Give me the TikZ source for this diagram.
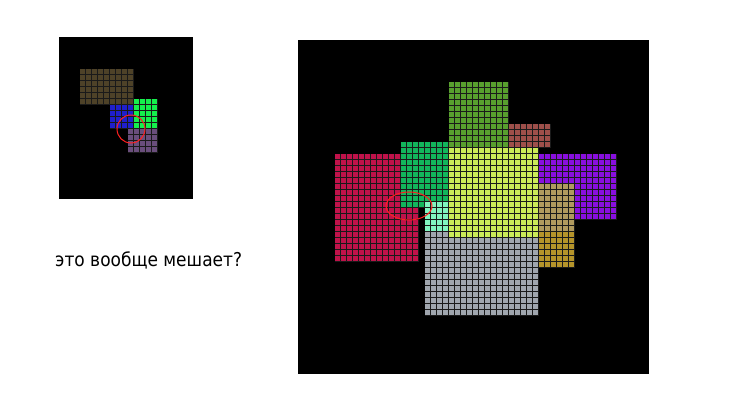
\documentclass[tikz,border=0pt]{standalone}
\usepackage{fontspec}
\setmainfont{DejaVu Sans}
\definecolor{gline}{HTML}{1A1A1A}
\definecolor{cOlive}{HTML}{4E4228}
\definecolor{cBlue}{HTML}{1F1FCC}
\definecolor{cLime}{HTML}{14F04C}
\definecolor{cMauve}{HTML}{6A4E7C}
\definecolor{cCrimson}{HTML}{C0124A}
\definecolor{cEmerald}{HTML}{12B65C}
\definecolor{cMint}{HTML}{80F5C0}
\definecolor{cGreen}{HTML}{589F2E}
\definecolor{cBrick}{HTML}{9E4F4A}
\definecolor{cGray}{HTML}{A0A6AE}
\definecolor{cYellow}{HTML}{CBEA58}
\definecolor{cPurple}{HTML}{880FDE}
\definecolor{cTan}{HTML}{B09A5E}
\definecolor{cGold}{HTML}{B5942A}
\definecolor{cMark}{HTML}{FF2020}
\newcommand\gridrect[5]{%
  \fill[#1] (#2,#3) rectangle ++({6*#4},{6*#5});
  \foreach \k in {1,...,#4} \draw[gridstroke] ({#2+6*\k-0.5},#3) -- ++(0,{6*#5});
  \foreach \k in {1,...,#5} \draw[gridstroke] (#2,{#3+6*\k-0.5}) -- ++({6*#4},0);
}
\begin{document}
\begin{tikzpicture}[x=1pt,y=-1pt,
  gridstroke/.style={draw=gline,line width=0.8pt},
  panel/.style={fill=black},
  marker/.style={draw=cMark,line width=1pt}]
\useasboundingbox (0,0) rectangle (747,406);
\fill[white] (0,0) rectangle (747,406);
% left panel
\fill[panel] (59,37) rectangle (193,199);
\gridrect{cOlive}{80}{69}{9}{6}
\gridrect{cBlue}{110}{105}{4}{4}
\gridrect{cLime}{134}{99}{4}{5}
\gridrect{cMauve}{128}{129}{5}{4}
\draw[marker] (131,129) circle[radius=14];
% right panel
\fill[panel] (298,40) rectangle (649,374);
\gridrect{cCrimson}{335}{154}{14}{18}
\gridrect{cEmerald}{401}{142}{8}{11}
\gridrect{cMint}{425}{202}{4}{5}
\gridrect{cGreen}{449}{82}{10}{11}
\gridrect{cBrick}{509}{124}{7}{4}
\gridrect{cGray}{425}{232}{19}{14}
\gridrect{cYellow}{449}{148}{15}{15}
\gridrect{cPurple}{539}{154}{13}{11}
\gridrect{cTan}{539}{184}{6}{8}
\gridrect{cGold}{539}{232}{6}{6}
\draw[marker] (409,206) ellipse[x radius=23,y radius=14];
% caption
\node[anchor=base west,inner sep=0pt,yscale=1.12] (caption) at (55,266) {\fontsize{17}{20}\selectfont это вообще мешает?};
\end{tikzpicture}
\end{document}
